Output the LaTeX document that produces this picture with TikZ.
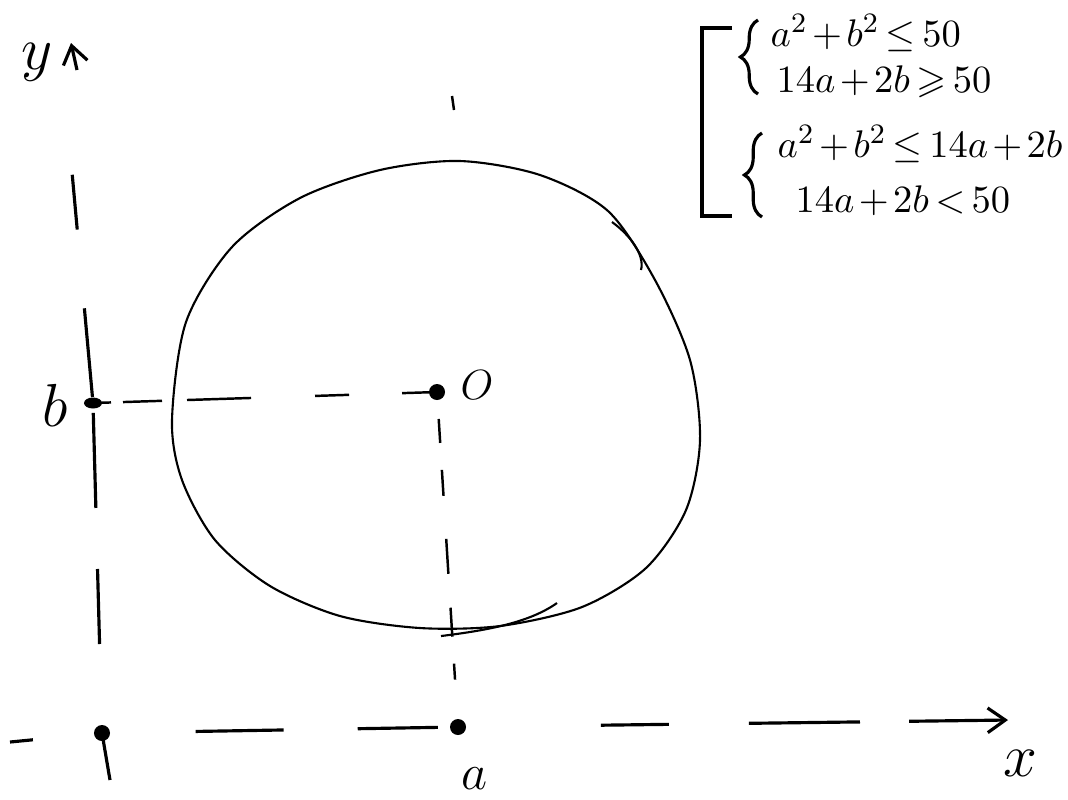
\documentclass[tikz,border=0pt]{standalone}
\usepackage{amssymb}
\usetikzlibrary{arrows.meta,decorations.pathreplacing,shapes.geometric}
\newcommand\tightmath{\medmuskip=2mu\relax\thickmuskip=3mu\relax}
\begin{document}
\begin{tikzpicture}[x=0.01cm,y=-0.01cm,
 dotnode/.style={circle,fill=black,inner sep=0pt,minimum size=0.16cm},
 axisline/.style={line width=0.9pt},
 guide/.style={line width=0.7pt},
 curve/.style={line width=0.6pt},
 lbl/.style={inner sep=0pt},
 eqn/.style={anchor=base west,inner sep=0pt,font={\fontsize{11}{13}\selectfont}},
 barb/.style={-{Straight Barb[length=5pt,width=7pt]}},
 bracestyle/.style={line width=0.9pt,decorate,decoration={brace,amplitude=5pt}}]
\useasboundingbox (0,0) rectangle (1068,799);

% points
\node[dotnode] (O0) at (102,733) {};
\node[dotnode] (A) at (458,727) {};
\node[dotnode] (O) at (437,392) {};
\node[ellipse,fill=black,inner sep=0pt,minimum width=0.18cm,minimum height=0.11cm] (B) at (93,403) {};

\coordinate (xstart) at (10,742);
\coordinate (xend) at (1008,720);
\coordinate (ytop) at (72,172);
\coordinate (otail) at (110,780);
\coordinate (yarrbase) at (77,70);
\coordinate (yarrtip) at (71,43);
\coordinate (tick1) at (452,96);
\coordinate (tick2) at (454,110);

% axes
\draw[axisline,barb,dash pattern=on 0.23cm off 1.63cm on 0.88cm off 0.74cm on 0.80cm off 1.63cm on 0.68cm off 0.80cm on 1.11cm off 0.49cm on 0.99cm]
  (xstart) -- (O0.center) -- (A.center) -- (xend);
\draw[axisline,dash pattern=on 0cm off 0.89cm on 0.75cm off 0.61cm on 0.95cm off 0.16cm on 0.89cm off 0.79cm on 0.55cm off 1cm]
  (O0.center) -- (B.center) -- (ytop);
\draw[axisline] (O0.center) -- (otail);
\draw[axisline,barb] (yarrbase) -- (yarrtip);

% guides
\draw[guide,dash pattern=on 0.18cm off 0.12cm on 0.39cm off 0.25cm on 0.64cm off 0.64cm on 0.34cm off 0.53cm on 0.36cm off 1cm]
  (B.center) -- (O.center);
\draw[guide,dash pattern=on 0cm off 0.27cm on 0.24cm off 0.27cm on 0.26cm off 0.43cm on 0.35cm off 0.34cm on 0.29cm off 0.27cm on 0.16cm off 1cm]
  (O.center) -- (A.center);
\draw[guide] (tick1) -- (tick2);

% circle
\draw[curve] plot[smooth cycle] coordinates {(172,420) (186,322) (232,247) (300,198) (380,170) (460,161) (540,175) (608,211) (655,280) (690,360) (700,440) (686,510) (646,568) (582,607) (500,626) (420,628) (340,616) (270,586) (215,540) (182,480)};
\draw[curve] (612,222) .. controls (630,235) and (645,255) .. (641,270);
\draw[curve] (441,636) .. controls (490,630) and (530,622) .. (557,603);

% labels
\node[lbl,font=\fontsize{19}{22}\selectfont] (ylab) at (37,62) {$y$};
\node[lbl,font=\fontsize{16}{19}\selectfont] (blab) at (55,405) {$b$};
\node[lbl,font=\fontsize{13}{15}\selectfont] (olab) at (477,385) {$O$};
\node[lbl,font=\fontsize{15}{18}\selectfont] (alab) at (475,779) {$a$};
\node[lbl,font=\fontsize{18}{21}\selectfont] (xlab) at (1020,763) {$x$};

% equations
\draw[line width=1.4pt] (732,28) -- (702,28) -- (702,216) -- (732,216);
\draw[bracestyle] (758,94) -- (758,20);
\draw[bracestyle] (762,217) -- (762,133);
\node[eqn] (e1) at (770,46) {$\tightmath a^2+b^2\le 50$};
\node[eqn] (e2) at (776,92) {$\tightmath 14a+2b\geqslant 50$};
\node[eqn] (e3) at (777,157) {$\tightmath a^2+b^2\le 14a+2b$};
\node[eqn] (e4) at (795,212) {$\tightmath 14a+2b<50$};
\end{tikzpicture}
\end{document}
